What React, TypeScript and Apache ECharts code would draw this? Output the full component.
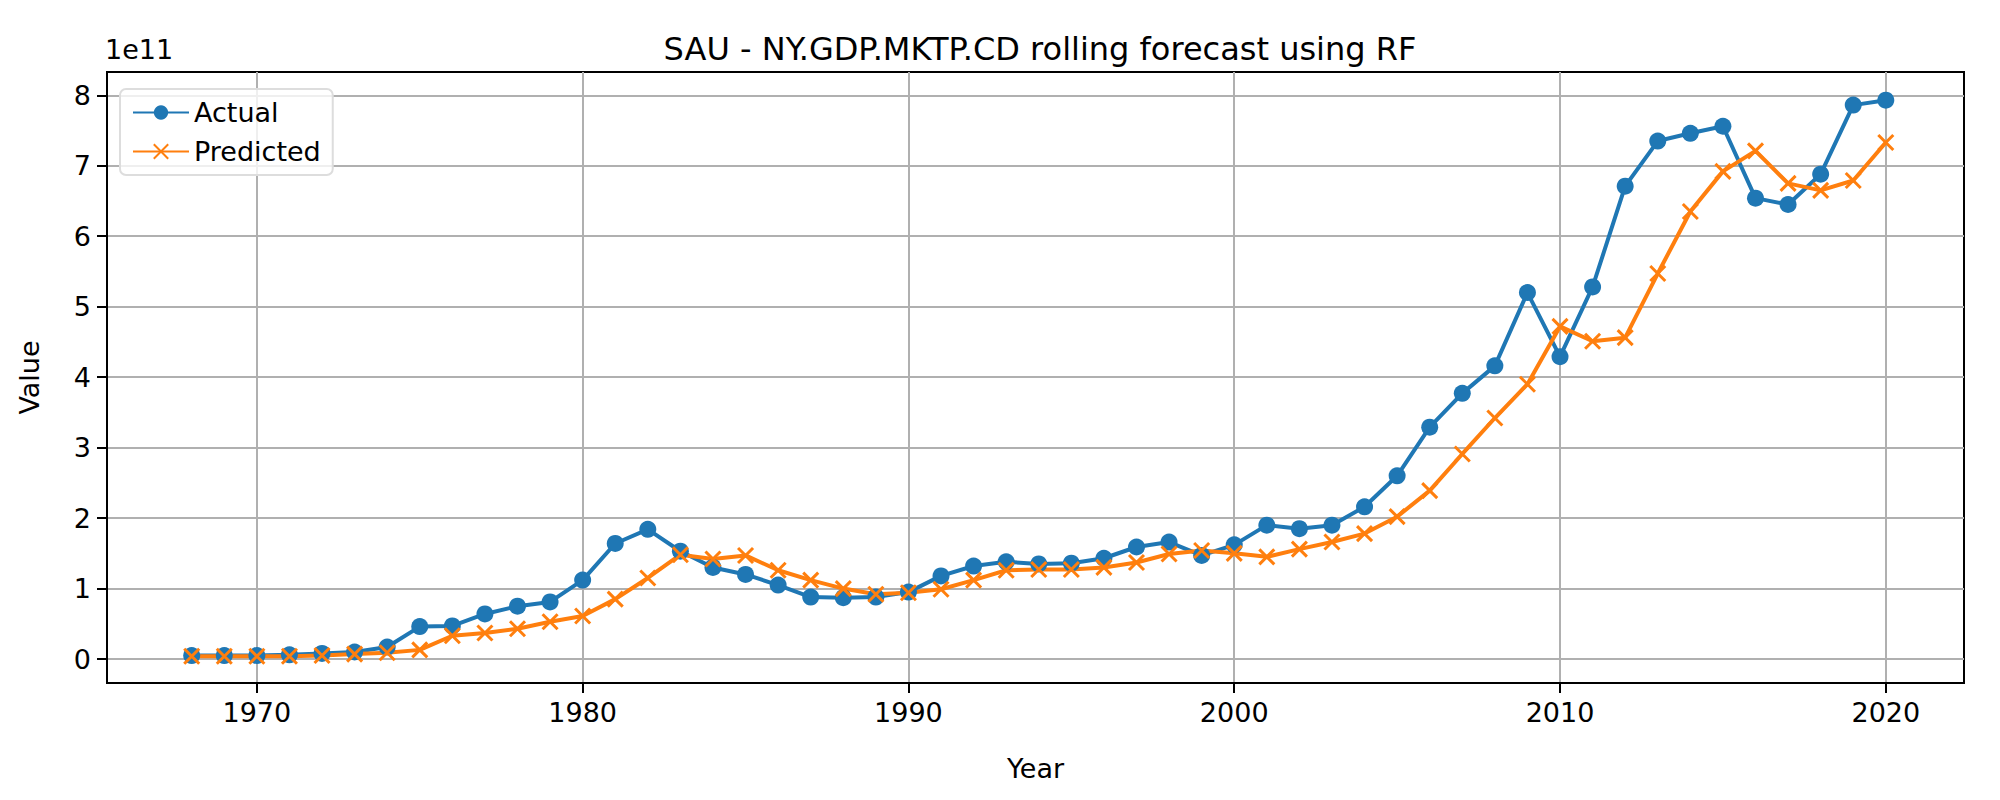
import { useEffect, useRef } from "react";
import * as echarts from "echarts";

const years = Array.from({ length: 53 }, (_, i) => 1968 + i);
// values in units of 1e11
const actual = [
  0.05, 0.05, 0.05, 0.06, 0.08, 0.1, 0.17, 0.46, 0.47, 0.64, 0.75, 0.81, 1.12, 1.64, 1.84, 1.53, 1.3, 1.2,
  1.05, 0.88, 0.87, 0.88, 0.95, 1.18, 1.32, 1.38, 1.35, 1.36, 1.43, 1.59, 1.66, 1.47, 1.62, 1.9, 1.85, 1.9,
  2.16, 2.6, 3.29, 3.77, 4.16, 5.2, 4.29, 5.28, 6.71, 7.35, 7.46, 7.56, 6.54, 6.45, 6.88, 7.86, 7.93,
];
const predicted = [
  0.04, 0.04, 0.04, 0.04, 0.05, 0.07, 0.09, 0.13, 0.33, 0.37, 0.43, 0.53, 0.61, 0.85, 1.15, 1.48, 1.42, 1.47,
  1.26, 1.12, 1.0, 0.92, 0.94, 0.99, 1.12, 1.26, 1.27, 1.27, 1.3, 1.37, 1.49, 1.54, 1.5, 1.45, 1.56, 1.66,
  1.78, 2.02, 2.39, 2.91, 3.42, 3.9, 4.72, 4.51, 4.56, 5.47, 6.35, 6.92, 7.21, 6.75, 6.65, 6.79, 7.33,
];
const xTicks = [1970, 1980, 1990, 2000, 2010, 2020];
const yTicks = [0, 1, 2, 3, 4, 5, 6, 7, 8];

const font = "DejaVu Sans";

export default function App() {
  const ref = useRef<HTMLDivElement | null>(null);

  useEffect(() => {
    if (!ref.current) return;
    const chart = echarts.init(ref.current, undefined, { renderer: "svg" });
    chart.setOption({
      animation: false,
      textStyle: { fontFamily: font },
      title: {
        text: "SAU - NY.GDP.MKTP.CD rolling forecast using RF",
        left: 1027,
        textAlign: "center",
        top: 20,
        textStyle: { fontFamily: font, fontSize: 32, fontWeight: "normal", color: "#000" },
      },
      grid: { left: 98, right: 28, top: 64, bottom: 109, show: true, borderColor: "#000", borderWidth: 2 },
      graphic: [
        { type: "text", left: 97, top: 28, style: { text: "1e11", font: `27px ${font}`, fill: "#000" } },
      ],
      legend: {
        left: 112,
        top: 81,
        orient: "vertical",
        itemWidth: 56,
        itemHeight: 18,
        itemGap: 12,
        padding: [10, 12],
        backgroundColor: "rgba(255,255,255,0.8)",
        borderColor: "#ddd",
        borderWidth: 2,
        borderRadius: 6,
        textStyle: { fontFamily: font, fontSize: 27, color: "#000" },
        data: ["Actual", "Predicted"],
      },
      xAxis: {
        type: "value",
        min: 1965.4,
        max: 2022.4,
        name: "Year",
        nameLocation: "middle",
        nameGap: 72,
        nameTextStyle: { fontFamily: font, fontSize: 27, color: "#000" },
        axisLine: { onZero: false, lineStyle: { color: "#000", width: 2 } },
        axisTick: { show: true, customValues: xTicks, length: 10, lineStyle: { color: "#000", width: 2 } },
        axisLabel: { customValues: xTicks, fontSize: 27, color: "#000", margin: 16, formatter: (v: number) => String(v) },
        splitLine: { show: true, lineStyle: { color: "#b0b0b0", width: 2 } },
      },
      yAxis: {
        type: "value",
        min: -0.34,
        max: 8.33,
        name: "Value",
        nameLocation: "middle",
        nameGap: 64,
        nameTextStyle: { fontFamily: font, fontSize: 27, color: "#000" },
        axisLine: { show: true, lineStyle: { color: "#000", width: 2 } },
        axisTick: { show: true, customValues: yTicks, length: 10, lineStyle: { color: "#000", width: 2 } },
        axisLabel: { customValues: yTicks, fontSize: 27, color: "#000", margin: 16 },
        splitLine: { show: true, lineStyle: { color: "#b0b0b0", width: 2 } },
      },
      series: [
        {
          name: "Actual",
          type: "line",
          data: years.map((y, i) => [y, actual[i]]),
          symbol: "circle",
          symbolSize: 17,
          color: "#1f77b4",
          lineStyle: { width: 4 },
        },
        {
          name: "Predicted",
          type: "line",
          data: years.map((y, i) => [y, predicted[i]]),
          symbol: "path://M0,0L10,10M10,0L0,10",
          symbolSize: 15,
          color: "#ff7f0e",
          itemStyle: { borderColor: "#ff7f0e", borderWidth: 3 },
          lineStyle: { width: 4 },
        },
      ],
    });
    return () => chart.dispose();
  }, []);

  return <div ref={ref} style={{ width: 1984, height: 784 }} />;
}
